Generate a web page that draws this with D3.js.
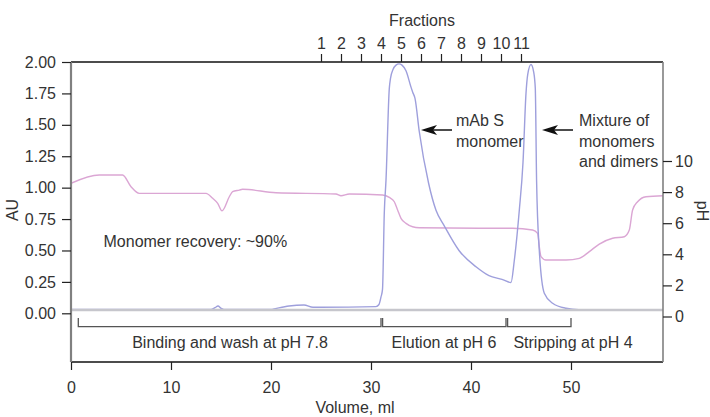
<!DOCTYPE html>
<html><head><meta charset="utf-8">
<script src="https://cdn.jsdelivr.net/npm/d3@7/dist/d3.min.js"></script>
<style>
body{margin:0;background:#fff;}
svg text{font-family:"Liberation Sans",Arial,sans-serif;fill:#333;}
</style></head>
<body><svg id="c" width="710" height="417"></svg>
<script>
// ---- data ----
const auVolume = [0,14.0,14.4,14.7,15.0,15.3,20.0,20.2,21.8,23.3,24.2,25,30.5,30.8,31.0,31.15,31.33,31.5,31.83,31.95,32.2,32.5,32.8,33.1,33.5,34.0,34.17,34.4,34.83,35.76,36.5,37.3,38.8,40.5,41.8,43.1,44.0,44.33,44.83,45.2,45.5,45.67,46.0,46.27,46.43,46.56,46.83,47.33,48.16,49.5,50.8,59.2];
const auValues = [0.03,0.03,0.045,0.058,0.04,0.03,0.03,0.033,0.058,0.066,0.048,0.048,0.053,0.07,0.13,0.19,0.80,1.06,1.79,1.87,1.94,1.975,1.985,1.975,1.93,1.80,1.76,1.71,1.445,1.035,0.82,0.70,0.50,0.37,0.30,0.27,0.245,0.42,0.82,1.2,1.75,1.9,1.98,1.92,1.79,1.05,0.50,0.16,0.08,0.04,0.029,0.028];

const phVolume = [0,2.83,5.16,6.0,6.83,13.5,14.17,14.67,15.1,15.83,16.16,16.83,17.16,20.5,26.5,27.0,27.83,31.16,31.83,32.33,32.66,33.0,33.5,34.16,34.83,40.8,44.16,46.16,46.66,46.83,47.0,47.5,49.5,50.83,51.83,52.83,54.16,55.33,55.83,56.16,56.66,57.5,59.2];
const phValues = [8.57,9.10,9.10,8.35,7.92,7.92,7.60,7.28,6.80,7.70,8.03,8.13,8.18,7.96,7.88,7.77,7.88,7.81,7.66,7.38,6.85,6.31,5.99,5.77,5.71,5.68,5.68,5.56,5.35,4.49,3.85,3.63,3.63,3.74,4.17,4.66,5.03,5.13,5.56,6.85,7.38,7.70,7.77];

const baselineVolume = [0,59.2];
const baselineValues = [0.026,0.026];

const fractionVolumes = [25,27,29,31,33,35,37,39,41,43,45];
const fractionLabels = ["1","2","3","4","5","6","7","8","9","10","11"];

const auTicks = [0,0.25,0.5,0.75,1.0,1.25,1.5,1.75,2.0];
const phTicks = [0,2,4,6,8,10];
const volumeTicks = [0,10,20,30,40,50];

const phaseLabels = ["Binding and wash at pH 7.8","Elution at pH 6","Stripping at pH 4"];
const phaseStart = [0.73,31.16,43.66];
const phaseEnd = [31.0,43.5,50.0];
const phaseLabelVolume = [15.9,37.3,50.2];

// ---- layout ----
const L=71, R=663, T=62, B=362;
const svg=d3.select("#c");
const x=d3.scaleLinear().domain([0,59.2]).range([L,R]);
const yAU=d3.scaleLinear().domain([0,2]).range([313.3,T]);
const yPH=d3.scaleLinear().domain([0,10]).range([316.5,161]);

svg.append("defs").append("clipPath").attr("id","clip")
  .append("rect").attr("x",L).attr("y",T-2).attr("width",R-L).attr("height",B-T+2);

const g=svg.append("g").attr("clip-path","url(#clip)");
const lineAU=d3.line().x(d=>x(d[0])).y(d=>yAU(d[1])).curve(d3.curveMonotoneX);
const linePH=d3.line().x(d=>x(d[0])).y(d=>yPH(d[1])).curve(d3.curveMonotoneX);

g.append("path").datum(phVolume.map((v,i)=>[v,phValues[i]]))
  .attr("d",linePH).attr("fill","none").attr("stroke","#dba6d4").attr("stroke-width",1.4);
g.append("path").datum(auVolume.map((v,i)=>[v,auValues[i]]))
  .attr("d",lineAU).attr("fill","none").attr("stroke","#9e9fdc").attr("stroke-width",1.4);
g.append("path").datum(baselineVolume.map((v,i)=>[v,baselineValues[i]]))
  .attr("d",lineAU).attr("fill","none").attr("stroke","#c6c6cc").attr("stroke-width",2.4);

// frame
svg.append("line").attr("x1",L).attr("x2",R).attr("y1",T).attr("y2",T).attr("stroke","#111").attr("stroke-width",1.5);
svg.append("line").attr("x1",L).attr("x2",R).attr("y1",B).attr("y2",B).attr("stroke","#111").attr("stroke-width",1.5);
svg.append("line").attr("x1",L).attr("x2",L).attr("y1",T).attr("y2",B).attr("stroke","#808080").attr("stroke-width",2.2);
svg.append("line").attr("x1",R).attr("x2",R).attr("y1",T).attr("y2",B).attr("stroke","#808080").attr("stroke-width",1.6);

function styleAxis(sel){
  sel.select(".domain").remove();
  sel.selectAll(".tick line").attr("stroke","#222").attr("stroke-width",1.2);
  sel.selectAll(".tick text").attr("font-size",16).attr("font-family","Liberation Sans, Arial, sans-serif").attr("fill","#333");
}
svg.append("g").attr("transform",`translate(${L},0)`)
  .call(d3.axisLeft(yAU).tickValues(auTicks).tickFormat(d3.format(".2f")).tickSize(9).tickPadding(6)).call(styleAxis);
svg.append("g").attr("transform",`translate(${R},0)`)
  .call(d3.axisRight(yPH).tickValues(phTicks).tickSize(9).tickPadding(3)).call(styleAxis);
svg.append("g").attr("transform",`translate(0,${T})`)
  .call(d3.axisTop(x).tickValues(fractionVolumes).tickFormat((d,i)=>fractionLabels[i]).tickSize(8).tickPadding(5.5)).call(styleAxis);
svg.append("g").attr("transform",`translate(0,${B})`)
  .call(d3.axisBottom(x).tickValues(volumeTicks).tickSize(8).tickPadding(12)).call(styleAxis);

// titles
svg.append("text").attr("x",422).attr("y",26).attr("text-anchor","middle").attr("font-size",16).text("Fractions");
svg.append("text").attr("x",355).attr("y",413).attr("text-anchor","middle").attr("font-size",16).text("Volume, ml");
svg.append("text").attr("transform","translate(12,210) rotate(-90)").attr("text-anchor","middle").attr("dy","0.35em").attr("font-size",16).text("AU");
svg.append("text").attr("transform","translate(703,211) rotate(90)").attr("text-anchor","middle").attr("dy","0.35em").attr("font-size",16).text("pH");

// phases
const ph=svg.append("g");
phaseLabels.forEach((lab,i)=>{
  const x0=x(phaseStart[i]), x1=x(phaseEnd[i]), yb=326.7, yt=318;
  ph.append("path").attr("d",`M${x0},${yt}V${yb}H${x1}V${yt}`).attr("fill","none").attr("stroke","#555").attr("stroke-width",1.3);
  ph.append("text").attr("x",x(phaseLabelVolume[i])).attr("y",348).attr("text-anchor","middle").attr("font-size",16).text(lab);
});

// annotations
svg.append("text").attr("x",103.5).attr("y",246.7).attr("font-size",16).text("Monomer recovery: ~90%");
function multi(xp,y0,lines){
  lines.forEach((t,i)=>svg.append("text").attr("x",xp).attr("y",y0+i*20.6).attr("font-size",16).text(t));
}
multi(456,126,["mAb S","monomer"]);
multi(579,126,["Mixture of","monomers","and dimers"]);
function arrow(tip,tail,y){
  svg.append("line").attr("x1",tip+12).attr("x2",tail).attr("y1",y).attr("y2",y).attr("stroke","#111").attr("stroke-width",1.5);
  svg.append("path").attr("d",`M${tip},${y}L${tip+16},${y-5}L${tip+12},${y}L${tip+16},${y+5}Z`).attr("fill","#111");
}
arrow(421,452,130);
arrow(542,573,130);
</script></body></html>
